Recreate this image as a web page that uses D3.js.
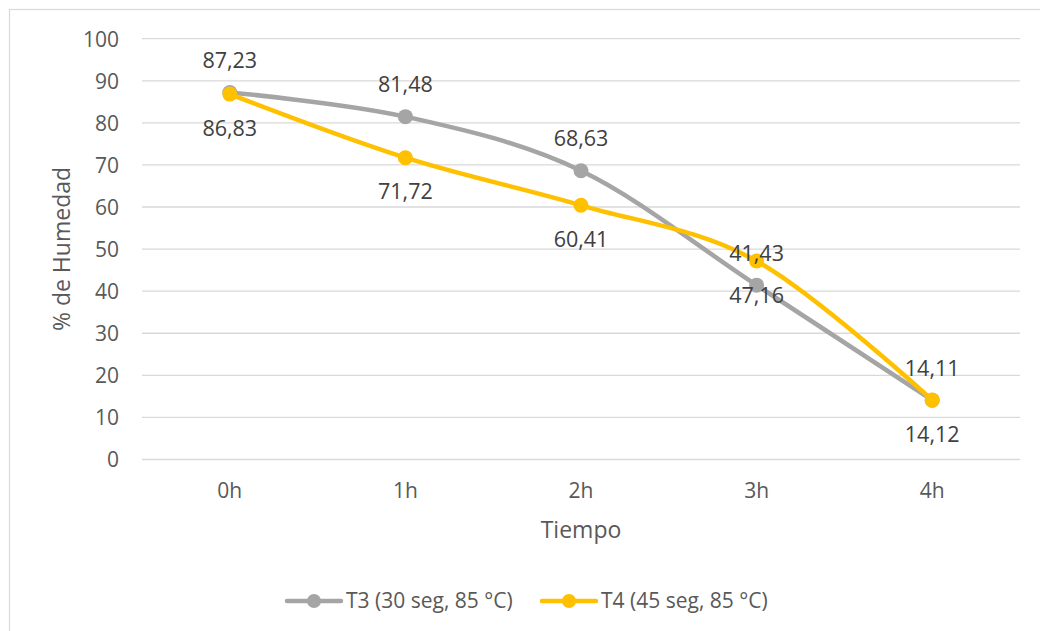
<!DOCTYPE html>
<html>
<head>
<meta charset="utf-8">
<script src="https://cdn.jsdelivr.net/npm/d3@7"></script>
<style>
  html, body { margin: 0; padding: 0; background: #fff; }
  svg { display: block; font-family: "Open Sans", "Noto Sans", sans-serif; }
</style>
</head>
<body>
<svg id="chart" width="1040" height="631"></svg>
<script>
// Drying curves: moisture content over time for two treatments
const categories = ["0h", "1h", "2h", "3h", "4h"];
const t3Values = [87.23, 81.48, 68.63, 41.43, 14.11];
const t4Values = [86.83, 71.72, 60.41, 47.16, 14.12];
const yTicks = [0, 10, 20, 30, 40, 50, 60, 70, 80, 90, 100];
const seriesNames = ["T3 (30 seg, 85 °C)", "T4 (45 seg, 85 °C)"];

const series = [
  { name: seriesNames[0], values: t3Values, color: "#A5A5A5", labelPos: "above" },
  { name: seriesNames[1], values: t4Values, color: "#FFC000", labelPos: "below" }
];

const svg = d3.select("#chart");
const textColor = "#595959";
const gridColor = "#D9D9D9";

// Outer chart frame
svg.append("rect")
  .attr("x", 9.5).attr("y", 9.5)
  .attr("width", 1060).attr("height", 660)
  .attr("fill", "none").attr("stroke", gridColor).attr("stroke-width", 1.2);

const plot = { left: 142, right: 1020, top: 38.7, bottom: 459.5 };

const x = d3.scaleBand().domain(categories).range([plot.left, plot.right]);
const y = d3.scaleLinear().domain([0, 100]).range([plot.bottom, plot.top]);
const cx = c => x(c) + x.bandwidth() / 2;

// Horizontal gridlines
svg.append("g").selectAll("line").data(yTicks).join("line")
  .attr("x1", plot.left).attr("x2", plot.right)
  .attr("y1", d => y(d)).attr("y2", d => y(d))
  .attr("stroke", gridColor).attr("stroke-width", 1.3);

// Y axis labels
const yAxis = d3.axisLeft(y).tickValues(yTicks).tickSize(0).tickPadding(0);
const gy = svg.append("g").attr("transform", `translate(119,0)`).call(yAxis);
gy.select(".domain").remove();
gy.selectAll("text").attr("fill", textColor).attr("font-size", 21)
  .attr("font-family", "Open Sans").attr("dy", "0.35em");

// X axis labels
const xAxis = d3.axisBottom(x).tickSize(0).tickPadding(0);
const gx = svg.append("g").attr("transform", `translate(0,${plot.bottom + 31})`).call(xAxis);
gx.select(".domain").remove();
gx.selectAll("text").attr("fill", textColor).attr("font-size", 21)
  .attr("font-family", "Open Sans").attr("dy", "0.35em");

// Axis titles
svg.append("text")
  .attr("x", 581).attr("y", 530).attr("text-anchor", "middle").attr("dy", "0.35em")
  .attr("fill", textColor).attr("font-size", 23).text("Tiempo");
svg.append("text")
  .attr("transform", "translate(62,249) rotate(-90)")
  .attr("text-anchor", "middle").attr("dy", "0.35em")
  .attr("fill", textColor).attr("font-size", 23).text("% de Humedad");

// Smoothed series lines
const line = d3.line()
  .x((d, i) => cx(categories[i]))
  .y(d => y(d))
  .curve(d3.curveCatmullRom.alpha(0));

series.forEach(s => {
  const g = svg.append("g");
  g.append("path").attr("d", line(s.values))
    .attr("fill", "none").attr("stroke", s.color)
    .attr("stroke-width", 4.5).attr("stroke-linecap", "round").attr("stroke-linejoin", "round");
  g.selectAll("circle").data(s.values).join("circle")
    .attr("cx", (d, i) => cx(categories[i])).attr("cy", d => y(d))
    .attr("r", 7.5).attr("fill", s.color);
});

// Data labels (comma decimal separator)
const fmt = v => v.toFixed(2).replace(".", ",");
series.forEach(s => {
  svg.append("g").selectAll("text").data(s.values).join("text")
    .attr("x", (d, i) => cx(categories[i]))
    .attr("y", d => y(d) + (s.labelPos === "above" ? -32 : 34))
    .attr("text-anchor", "middle").attr("dy", "0.35em")
    .attr("fill", "#404040").attr("font-size", 21.5)
    .text(d => fmt(d));
});

// Legend
const legendItems = [
  { s: series[0], x0: 287 },
  { s: series[1], x0: 542 }
];
const ly = 601;
legendItems.forEach(({ s, x0 }) => {
  const g = svg.append("g");
  g.append("line").attr("x1", x0).attr("x2", x0 + 54).attr("y1", ly).attr("y2", ly)
    .attr("stroke", s.color).attr("stroke-width", 4.5).attr("stroke-linecap", "round");
  g.append("circle").attr("cx", x0 + 27).attr("cy", ly).attr("r", 7).attr("fill", s.color);
  g.append("text").attr("x", x0 + 59).attr("y", ly).attr("dy", "0.35em")
    .attr("fill", textColor).attr("font-size", 21).text(s.name);
});
</script>
</body>
</html>
